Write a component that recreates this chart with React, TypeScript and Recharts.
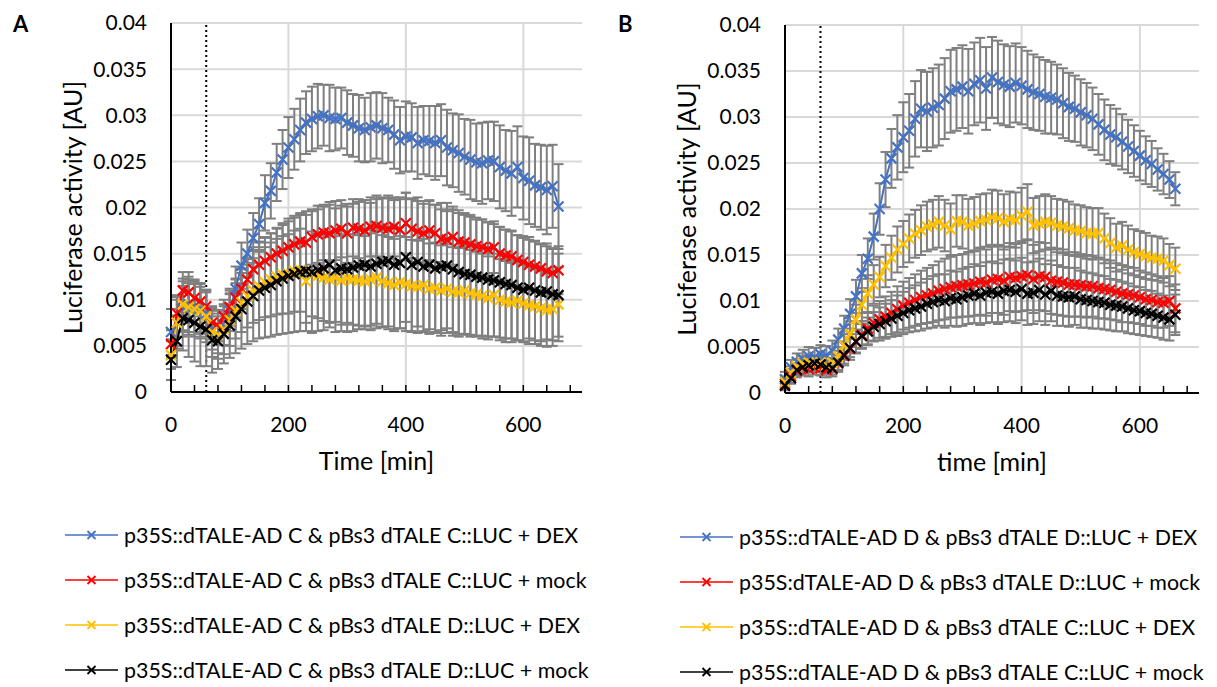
import React from "react";
import { CartesianGrid, ErrorBar, Legend, Line, LineChart, ReferenceLine, XAxis, YAxis } from "recharts";

const FONT = "Lato, 'Open Sans', sans-serif";

// time points [min]
const minutes = [
  0, 10, 20, 30, 40, 50, 60, 70, 80, 90,
  100, 110, 120, 130, 140, 150, 160, 170, 180, 190,
  200, 210, 220, 230, 240, 250, 260, 270, 280, 290,
  300, 310, 320, 330, 340, 350, 360, 370, 380, 390,
  400, 410, 420, 430, 440, 450, 460, 470, 480, 490,
  500, 510, 520, 530, 540, 550, 560, 570, 580, 590,
  600, 610, 620, 630, 640, 650, 660,
];

const xTicks = [0, 40, 80, 120, 160, 200, 240, 280, 320, 360, 400, 440, 480, 520, 560, 600, 640, 680];
const xGrid = [200, 400, 600];
const yTicks = [0, 0.005, 0.01, 0.015, 0.02, 0.025, 0.03, 0.035, 0.04];
const dexTime = 60;

// ---- panel A ----
const blueA = [
  .0065, .0075, .0090, .0095, .0093, .0090, .0085, .0068, .0062, .0072,
  .0088, .0112, .0137, .0150, .0167, .0182, .0205, .0218, .0238, .0252,
  .0265, .0274, .0284, .0292, .0296, .0299, .0300, .0297, .0296, .0297,
  .0292, .0289, .0286, .0284, .0287, .0289, .0286, .0284, .0279, .0273,
  .0277, .0276, .0270, .0273, .0272, .0270, .0273, .0265, .0262, .0259,
  .0255, .0252, .0249, .0248, .0251, .0250, .0244, .0240, .0237, .0244,
  .0232, .0229, .0224, .0222, .0219, .0223, .0201,
];
const blueErrA = [
  .0025, .0028, .0030, .0030, .0028, .0027, .0025, .0022, .0020, .0021,
  .0022, .0024, .0025, .0026, .0027, .0028, .0030, .0030, .0031, .0032,
  .0033, .0033, .0034, .0034, .0035, .0035, .0033, .0036, .0034, .0033,
  .0035, .0034, .0036, .0035, .0037, .0036, .0038, .0035, .0037, .0036,
  .0038, .0037, .0039, .0037, .0038, .0040, .0039, .0041, .0040, .0042,
  .0041, .0043, .0042, .0044, .0042, .0043, .0045, .0044, .0046, .0044,
  .0045, .0047, .0045, .0046, .0048, .0045, .0046,
];
const redA = [
  .0052, .0085, .0110, .0108, .0102, .0098, .0093, .0075, .0072, .0082,
  .0092, .0102, .0112, .0122, .0133, .0138, .0142, .0146, .0150, .0153,
  .0157, .0160, .0163, .0162, .0168, .0171, .0173, .0172, .0175, .0177,
  .0172, .0178, .0177, .0175, .0179, .0180, .0178, .0177, .0179, .0176,
  .0183, .0177, .0174, .0172, .0175, .0172, .0166, .0165, .0168, .0163,
  .0162, .0160, .0158, .0157, .0155, .0157, .0150, .0148, .0147, .0143,
  .0141, .0138, .0136, .0134, .0131, .0129, .0132,
];
const redErrA = [
  .0015, .0020, .0020, .0022, .0020, .0020, .0018, .0018, .0017, .0018,
  .0020, .0021, .0022, .0023, .0024, .0025, .0026, .0026, .0027, .0028,
  .0028, .0029, .0029, .0030, .0030, .0031, .0030, .0031, .0032, .0031,
  .0032, .0031, .0032, .0033, .0032, .0033, .0032, .0033, .0032, .0033,
  .0033, .0032, .0033, .0032, .0032, .0031, .0032, .0031, .0030, .0031,
  .0030, .0030, .0029, .0030, .0029, .0028, .0029, .0028, .0028, .0027,
  .0028, .0027, .0027, .0026, .0027, .0026, .0026,
];
const yellowA = [
  .0040, .0075, .0095, .0092, .0090, .0088, .0082, .0065, .0062, .0068,
  .0078, .0088, .0097, .0104, .0110, .0115, .0119, .0122, .0125, .0127,
  .0128, .0131, .0132, .0120, .0128, .0126, .0124, .0122, .0124, .0121,
  .0123, .0122, .0121, .0120, .0122, .0124, .0120, .0118, .0116, .0119,
  .0117, .0115, .0114, .0116, .0112, .0113, .0110, .0112, .0109, .0108,
  .0110, .0107, .0106, .0104, .0102, .0105, .0100, .0098, .0097, .0099,
  .0096, .0094, .0093, .0091, .0089, .0090, .0095,
];
const yellowErrA = [
  .0015, .0025, .0028, .0030, .0030, .0030, .0028, .0027, .0026, .0027,
  .0028, .0030, .0032, .0034, .0035, .0037, .0038, .0040, .0041, .0042,
  .0043, .0044, .0045, .0045, .0046, .0046, .0047, .0047, .0048, .0048,
  .0048, .0049, .0049, .0049, .0050, .0050, .0050, .0050, .0050, .0050,
  .0051, .0050, .0050, .0050, .0049, .0049, .0049, .0048, .0048, .0048,
  .0047, .0047, .0046, .0046, .0045, .0045, .0044, .0044, .0043, .0043,
  .0042, .0042, .0041, .0041, .0040, .0040, .0040,
];
const blackA = [
  .0035, .0055, .0080, .0078, .0075, .0071, .0068, .0056, .0055, .0063,
  .0072, .0082, .0090, .0098, .0104, .0110, .0113, .0116, .0120, .0123,
  .0126, .0128, .0130, .0131, .0130, .0132, .0134, .0138, .0132, .0134,
  .0133, .0135, .0137, .0138, .0136, .0139, .0141, .0142, .0138, .0140,
  .0146, .0138, .0141, .0136, .0138, .0134, .0136, .0137, .0133, .0130,
  .0128, .0127, .0125, .0124, .0122, .0121, .0119, .0117, .0116, .0113,
  .0111, .0113, .0110, .0108, .0109, .0106, .0105,
];
const blackErrA = [
  .0022, .0028, .0035, .0040, .0042, .0043, .0040, .0035, .0030, .0032,
  .0035, .0040, .0043, .0046, .0049, .0052, .0054, .0056, .0058, .0060,
  .0062, .0063, .0064, .0065, .0066, .0066, .0067, .0068, .0067, .0068,
  .0068, .0069, .0069, .0070, .0069, .0070, .0070, .0071, .0070, .0071,
  .0070, .0072, .0070, .0071, .0070, .0069, .0069, .0068, .0068, .0067,
  .0066, .0065, .0064, .0063, .0062, .0061, .0060, .0059, .0058, .0057,
  .0056, .0055, .0054, .0053, .0052, .0050, .0045,
];

// ---- panel B ----
const blueB = [
  .0015, .0028, .0034, .0037, .0040, .0039, .0042, .0041, .0046, .0058,
  .0070, .0086, .0105, .0130, .0146, .0170, .0200, .0232, .0255, .0267,
  .0278, .0285, .0298, .0309, .0306, .0310, .0313, .0320, .0328, .0330,
  .0333, .0328, .0336, .0340, .0331, .0343, .0338, .0335, .0333, .0337,
  .0334, .0330, .0327, .0325, .0322, .0321, .0319, .0315, .0311, .0309,
  .0305, .0302, .0298, .0292, .0286, .0281, .0278, .0273, .0268, .0263,
  .0258, .0253, .0249, .0243, .0238, .0232, .0222,
];
const blueErrB = [
  .0008, .0008, .0009, .0010, .0010, .0010, .0010, .0010, .0011, .0012,
  .0014, .0016, .0018, .0020, .0022, .0025, .0028, .0030, .0032, .0035,
  .0038, .0040, .0041, .0042, .0043, .0043, .0044, .0044, .0045, .0045,
  .0045, .0046, .0045, .0046, .0045, .0044, .0045, .0044, .0044, .0043,
  .0042, .0042, .0041, .0040, .0040, .0039, .0038, .0038, .0037, .0036,
  .0036, .0035, .0034, .0033, .0033, .0032, .0031, .0030, .0029, .0028,
  .0027, .0026, .0025, .0023, .0022, .0020, .0018,
];
const redB = [
  .0010, .0018, .0024, .0027, .0026, .0028, .0027, .0025, .0026, .0032,
  .0040, .0048, .0056, .0063, .0070, .0076, .0080, .0083, .0087, .0091,
  .0095, .0098, .0101, .0104, .0106, .0108, .0111, .0113, .0115, .0116,
  .0117, .0118, .0119, .0121, .0120, .0123, .0124, .0122, .0126, .0125,
  .0127, .0128, .0124, .0127, .0126, .0122, .0121, .0120, .0118, .0118,
  .0117, .0116, .0116, .0114, .0113, .0112, .0110, .0108, .0107, .0106,
  .0104, .0102, .0101, .0099, .0098, .0100, .0092,
];
const redErrB = [
  .0006, .0007, .0007, .0008, .0008, .0008, .0008, .0008, .0008, .0009,
  .0010, .0012, .0013, .0015, .0017, .0019, .0020, .0022, .0023, .0025,
  .0026, .0027, .0028, .0029, .0030, .0031, .0032, .0033, .0033, .0034,
  .0034, .0035, .0035, .0036, .0036, .0036, .0037, .0037, .0037, .0037,
  .0038, .0038, .0037, .0037, .0037, .0036, .0036, .0036, .0035, .0035,
  .0034, .0034, .0033, .0033, .0032, .0032, .0031, .0031, .0030, .0030,
  .0029, .0029, .0028, .0028, .0027, .0027, .0026,
];
const yellowB = [
  .0012, .0022, .0029, .0032, .0033, .0031, .0033, .0030, .0033, .0040,
  .0052, .0064, .0080, .0096, .0108, .0118, .0126, .0138, .0147, .0156,
  .0162, .0168, .0173, .0177, .0181, .0183, .0186, .0182, .0178, .0187,
  .0186, .0182, .0184, .0187, .0188, .0191, .0190, .0186, .0189, .0188,
  .0193, .0197, .0182, .0184, .0186, .0185, .0182, .0181, .0179, .0177,
  .0176, .0174, .0173, .0174, .0168, .0163, .0158, .0160, .0156, .0153,
  .0151, .0149, .0147, .0146, .0144, .0139, .0135,
];
const yellowErrB = [
  .0006, .0007, .0008, .0008, .0008, .0008, .0008, .0008, .0009, .0010,
  .0012, .0014, .0016, .0018, .0020, .0021, .0022, .0023, .0024, .0025,
  .0025, .0026, .0026, .0027, .0027, .0027, .0028, .0028, .0028, .0028,
  .0029, .0029, .0029, .0029, .0029, .0030, .0030, .0030, .0030, .0030,
  .0030, .0030, .0030, .0030, .0030, .0029, .0029, .0029, .0029, .0028,
  .0028, .0028, .0028, .0027, .0027, .0027, .0026, .0026, .0026, .0025,
  .0025, .0025, .0024, .0024, .0024, .0023, .0023,
];
const blackB = [
  .0008, .0016, .0025, .0028, .0030, .0032, .0031, .0028, .0027, .0033,
  .0041, .0049, .0056, .0062, .0067, .0072, .0075, .0078, .0081, .0084,
  .0087, .0090, .0092, .0094, .0097, .0099, .0101, .0100, .0103, .0102,
  .0104, .0106, .0108, .0106, .0109, .0110, .0108, .0111, .0112, .0110,
  .0113, .0108, .0109, .0112, .0107, .0111, .0106, .0105, .0104, .0105,
  .0102, .0101, .0100, .0099, .0098, .0096, .0095, .0094, .0092, .0090,
  .0089, .0087, .0086, .0084, .0082, .0080, .0085,
];
const blackErrB = [
  .0005, .0006, .0007, .0007, .0007, .0007, .0007, .0007, .0007, .0008,
  .0009, .0010, .0012, .0013, .0015, .0016, .0018, .0019, .0020, .0022,
  .0023, .0024, .0025, .0026, .0027, .0028, .0028, .0029, .0030, .0030,
  .0031, .0031, .0032, .0032, .0033, .0033, .0033, .0034, .0034, .0034,
  .0034, .0034, .0034, .0034, .0033, .0033, .0033, .0032, .0032, .0031,
  .0031, .0030, .0030, .0029, .0029, .0028, .0028, .0027, .0027, .0026,
  .0026, .0025, .0025, .0024, .0024, .0023, .0022,
];

const BLUE = "#4472C4";
const RED = "#FF0000";
const YELLOW = "#FFC000";
const BLACK = "#000000";
const ERR_GRAY = "#7F7F7F";

type Series = { key: string; name: string; color: string; values: number[]; errors: number[] };

const seriesA: Series[] = [
  { key: "s1", name: "p35S::dTALE-AD C & pBs3 dTALE C::LUC + DEX", color: BLUE, values: blueA, errors: blueErrA },
  { key: "s2", name: "p35S::dTALE-AD C & pBs3 dTALE C::LUC + mock", color: RED, values: redA, errors: redErrA },
  { key: "s3", name: "p35S::dTALE-AD C & pBs3 dTALE D::LUC + DEX", color: YELLOW, values: yellowA, errors: yellowErrA },
  { key: "s4", name: "p35S::dTALE-AD C & pBs3 dTALE D::LUC + mock", color: BLACK, values: blackA, errors: blackErrA },
];

const seriesB: Series[] = [
  { key: "s1", name: "p35S::dTALE-AD D & pBs3 dTALE D::LUC + DEX", color: BLUE, values: blueB, errors: blueErrB },
  { key: "s2", name: "p35S:dTALE-AD D & pBs3 dTALE D::LUC + mock", color: RED, values: redB, errors: redErrB },
  { key: "s3", name: "p35S::dTALE-AD D & pBs3 dTALE C::LUC + DEX", color: YELLOW, values: yellowB, errors: yellowErrB },
  { key: "s4", name: "p35S::dTALE-AD D & pBs3 dTALE C::LUC + mock", color: BLACK, values: blackB, errors: blackErrB },
];

function buildRows(series: Series[]) {
  return minutes.map((t, i) => {
    const row: Record<string, number> = { t };
    series.forEach((s) => {
      row[s.key] = s.values[i];
      row[s.key + "Err"] = s.errors[i];
    });
    return row;
  });
}

const crossPath = (cx: number, cy: number, r: number) =>
  `M${cx - r},${cy - r}L${cx + r},${cy + r}M${cx - r},${cy + r}L${cx + r},${cy - r}`;

const crossDot = (color: string) => (props: any) => {
  const { cx, cy, index } = props;
  if (cx == null || cy == null) return <g key={index} />;
  return <path key={index} d={crossPath(cx, cy, 5)} stroke={color} strokeWidth={2.2} fill="none" />;
};

function LegendList(props: any) {
  // keep the series order (s1..s4), not alphabetical
  const items = (props.payload || [])
    .filter((p: any) => p.type !== "none")
    .slice()
    .sort((a: any, b: any) => String(a.dataKey).localeCompare(String(b.dataKey)));
  return (
    <div style={{ display: "flex", flexDirection: "column" }}>
      {items.map((p: any) => (
        <div key={p.value} style={{ height: 45, display: "flex", alignItems: "center" }}>
          <svg width={53} height={12} style={{ flex: "none" }}>
            <line x1={0} y1={6} x2={53} y2={6} stroke={p.color} strokeWidth={1.5} />
            <path d={crossPath(26.5, 6, 4)} stroke={p.color} strokeWidth={1.8} />
          </svg>
          <span style={{ marginLeft: 6, fontSize: 21.4, color: "#000", fontFamily: FONT, whiteSpace: "nowrap" }}>
            {p.value}
          </span>
        </div>
      ))}
    </div>
  );
}

function YTitle(props: any) {
  const { viewBox, shift, value } = props;
  if (!viewBox) return null;
  const x = viewBox.x + viewBox.width / 2 + shift;
  const y = viewBox.y + viewBox.height / 2;
  return (
    <text x={x} y={y} transform={`rotate(-90, ${x}, ${y})`} textAnchor="middle" dominantBaseline="central"
      fontSize={25} fontFamily={FONT} fill="#000">
      {value}
    </text>
  );
}

type PanelProps = {
  series: Series[];
  letter: string;
  xTitle: string;
  left: number;
  width: number;
  yAxisWidth: number;
  top: number;
  bottom: number;
  legendLeft: number;
  legendTop: number;
  titleShift: number;
  letterX: number;
};

function Panel(p: PanelProps) {
  const rows = buildRows(p.series);
  return (
    <div style={{ position: "absolute", left: p.left, top: 0, width: p.width, height: 687 }}>
      <LineChart width={p.width} height={687} data={rows}
        margin={{ top: p.top, right: 18, left: 0, bottom: p.bottom }}>
        <CartesianGrid stroke="#d9d9d9" strokeWidth={2} verticalValues={xGrid} horizontalValues={yTicks} />
        <XAxis type="number" dataKey="t" domain={[0, 700]} ticks={xTicks} interval={0}
          tickFormatter={(v: number) => (v % 200 === 0 ? String(v) : "")}
          tickSize={-7} tickMargin={32} height={80}
          axisLine={{ stroke: "#000", strokeWidth: 2 }} tickLine={{ stroke: "#000", strokeWidth: 1.5 }}
          tick={{ fontSize: 21, fill: "#000", fontFamily: FONT }}
          label={{ value: p.xTitle, position: "insideBottom", offset: 2, fill: "#000", fontSize: 25, fontFamily: FONT }} />
        <YAxis type="number" domain={[0, 0.04]} ticks={yTicks} interval={0} width={p.yAxisWidth}
          tickLine={false} tickSize={0} tickMargin={24}
          axisLine={{ stroke: "#000", strokeWidth: 2 }}
          tick={{ fontSize: 21, fill: "#000", fontFamily: FONT }}
          label={<YTitle value="Luciferase activity [AU]" shift={p.titleShift} />} />
        <ReferenceLine x={dexTime} stroke="#000" strokeWidth={2} strokeDasharray="2 3" />
        {p.series.map((s) => (
          <Line key={s.key + "err"} dataKey={s.key} stroke="none" dot={false} legendType="none"
            isAnimationActive={false} activeDot={false}>
            <ErrorBar dataKey={s.key + "Err"} stroke={ERR_GRAY} strokeWidth={2} width={5}
              isAnimationActive={false} />
          </Line>
        ))}
        {p.series.map((s) => (
          <Line key={s.key} dataKey={s.key} name={s.name} stroke={s.color} strokeWidth={2}
            type="linear" dot={crossDot(s.color)} activeDot={false} isAnimationActive={false} />
        ))}
        <Legend layout="vertical" align="center" verticalAlign="middle" content={LegendList}
          wrapperStyle={{ top: p.legendTop, left: p.legendLeft, width: p.width - p.legendLeft, height: 180 }} />
      </LineChart>
      <div style={{ position: "absolute", left: p.letterX, top: 12, fontSize: 22, fontWeight: 700, fontFamily: FONT, color: "#000", lineHeight: "24px" }}>
        {p.letter}
      </div>
    </div>
  );
}

export default function App() {
  return (
    <div style={{ position: "absolute", left: 0, top: 0, width: 1217, height: 687, background: "#fff" }}>
      <Panel series={seriesA} letter="A" xTitle="Time [min]" left={0} width={600} yAxisWidth={171}
        top={23} bottom={215} legendLeft={65} legendTop={512} titleShift={-14} letterX={13} />
      <Panel series={seriesB} letter="B" xTitle="time [min]" left={600} width={617} yAxisWidth={185}
        top={25} bottom={214} legendLeft={80} legendTop={514} titleShift={-7} letterX={18} />
    </div>
  );
}
